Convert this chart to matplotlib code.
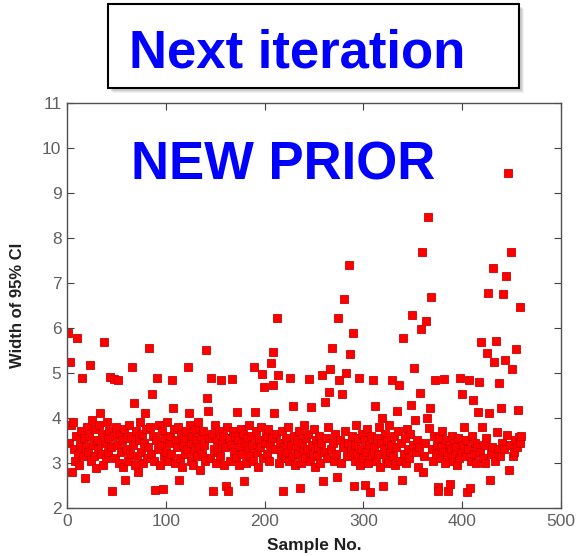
import numpy as np
import matplotlib
matplotlib.use('Agg')
import matplotlib.pyplot as plt
from matplotlib.patches import Rectangle

plt.rcParams['font.family'] = ['Liberation Sans', 'DejaVu Sans']

# width of the 95% CI per sample (20 samples per row)
ci_width = [
    5.88, 3.44, 5.24, 3.85, 2.80, 3.90, 3.30, 3.05, 3.60, 5.77, 3.20, 2.95, 3.40, 3.70, 4.88, 3.15, 3.55, 2.67, 3.35, 3.80,
    3.25, 3.60, 5.17, 3.05, 3.95, 3.40, 3.15, 3.75, 2.89, 3.50, 3.30, 3.85, 4.10, 3.20, 3.65, 2.95, 5.68, 3.45, 3.10, 3.90,
    3.55, 3.25, 3.70, 4.90, 3.35, 2.38, 3.60, 4.87, 3.10, 3.80, 3.40, 4.84, 3.00, 3.65, 3.25, 3.50, 2.90, 3.75, 2.62, 3.30,
    3.55, 3.05, 3.85, 3.20, 3.60, 5.13, 3.40, 4.33, 2.95, 3.70, 3.15, 2.80, 3.50, 3.90, 3.25, 3.65, 3.00, 3.45, 4.10, 3.75,
    3.10, 3.35, 5.55, 3.80, 3.20, 4.53, 3.60, 3.05, 2.40, 3.50, 4.88, 3.30, 3.85, 2.95, 3.40, 3.70, 2.42, 3.15, 3.55, 3.25,
    3.90, 3.05, 3.45, 3.60, 3.20, 4.84, 4.22, 3.75, 3.00, 3.50, 3.35, 3.80, 2.62, 3.10, 3.65, 2.90, 3.40, 3.55, 3.20, 3.70,
    3.30, 5.13, 4.10, 3.85, 3.05, 3.45, 3.60, 2.95, 3.25, 3.75, 3.50, 3.15, 3.90, 3.35, 2.85, 3.60, 3.20, 3.70, 3.40, 3.05,
    5.50, 4.44, 4.15, 3.55, 3.10, 4.88, 3.65, 2.38, 3.30, 3.85, 3.00, 3.50, 3.25, 3.70, 3.15, 4.84, 3.45, 3.60, 2.95, 3.35,
    2.48, 3.80, 2.38, 3.55, 3.05, 3.40, 4.86, 3.70, 3.25, 3.60, 3.10, 4.13, 3.50, 2.95, 3.35, 3.75, 3.20, 3.65, 2.60, 3.45,
    3.00, 3.55, 3.30, 3.85, 3.15, 3.60, 3.40, 3.05, 5.12, 4.13, 3.70, 3.25, 2.90, 3.50, 3.35, 3.80, 4.97, 3.10, 4.68, 3.45,
    3.60, 3.20, 3.75, 3.05, 3.40, 5.21, 3.55, 5.46, 4.73, 4.10, 3.30, 3.65, 6.21, 4.95, 3.00, 3.45, 3.20, 3.70, 2.38, 3.35,
    3.10, 3.55, 3.25, 3.80, 3.05, 4.89, 3.40, 3.15, 4.26, 3.60, 2.95, 3.35, 3.50, 3.20, 3.70, 2.45, 3.00, 3.45, 3.25, 3.85,
    3.10, 3.55, 3.30, 3.65, 4.86, 3.05, 4.24, 3.40, 3.20, 3.75, 2.90, 3.50, 3.15, 3.35, 3.60, 3.00, 3.45, 4.95, 2.60, 3.25,
    4.35, 3.55, 3.10, 3.80, 4.58, 5.08, 3.30, 5.55, 3.45, 3.05, 3.65, 3.20, 2.69, 6.21, 4.84, 3.50, 3.00, 4.52, 3.35, 6.63,
    3.70, 5.00, 3.15, 3.45, 7.39, 5.42, 3.25, 3.60, 5.89, 2.48, 3.05, 3.40, 3.85, 3.20, 3.55, 4.88, 2.95, 3.30, 3.65, 3.10,
    3.50, 2.50, 3.25, 3.75, 3.00, 3.40, 2.36, 3.60, 3.15, 4.84, 3.35, 4.26, 3.05, 3.55, 3.20, 3.80, 2.90, 3.45, 4.00, 2.48,
    3.30, 3.65, 3.10, 3.50, 3.00, 3.85, 3.25, 3.40, 4.84, 3.15, 3.60, 2.95, 3.35, 4.15, 3.70, 4.72, 3.05, 3.45, 2.62, 5.78,
    3.20, 3.55, 3.00, 3.75, 3.30, 3.10, 3.65, 4.28, 6.28, 3.40, 5.10, 3.95, 3.25, 3.50, 2.90, 3.35, 4.55, 5.98, 7.68, 2.80,
    3.15, 3.45, 6.16, 4.00, 8.45, 3.77, 4.22, 6.68, 3.30, 3.05, 3.60, 4.84, 3.20, 3.40, 2.47, 2.38, 3.55, 3.10, 3.35, 3.70,
    3.25, 4.86, 3.00, 3.50, 3.15, 2.38, 3.40, 2.53, 3.30, 3.60, 3.05, 3.45, 3.20, 3.35, 2.95, 3.55, 3.10, 4.88, 3.25, 4.52,
    3.40, 3.80, 3.15, 3.50, 2.36, 3.30, 4.84, 2.44, 3.05, 3.60, 4.40, 3.20, 3.45, 3.00, 3.35, 4.13, 4.80, 3.25, 5.68, 3.80,
    3.10, 3.40, 3.00, 3.55, 5.43, 6.77, 4.10, 2.62, 3.20, 3.35, 7.32, 5.24, 3.05, 5.70, 3.68, 3.30, 4.77, 3.15, 4.22, 3.45,
    6.75, 3.30, 5.28, 7.14, 3.62, 9.43, 2.84, 3.40, 7.68, 5.08, 3.15, 3.24, 3.50, 5.52, 3.35, 4.17, 3.57, 3.45, 6.46, 3.60,
]
sample_no = np.arange(1, len(ci_width) + 1)

x_ticks = [0, 100, 200, 300, 400, 500]
y_ticks = list(range(2, 12))

W, H = 577, 556
fig = plt.figure(figsize=(W / 100, H / 100), dpi=100)
fig.patch.set_facecolor('white')

# axes box in pixel terms: x 67..561, y 102.5..508 from the top
ax = fig.add_axes([67 / W, 1 - 508 / H, (561 - 67) / W, (508 - 102.5) / H])
ax.plot(sample_no, ci_width, linestyle='none', marker='s', markersize=6.2,
        markerfacecolor='#ff0000', markeredgecolor='#d00000', markeredgewidth=0.6)

ax.set_xlim(0, 500)
ax.set_ylim(2, 11)
ax.set_xticks(x_ticks)
ax.set_yticks(y_ticks)
ax.tick_params(direction='in', top=True, right=True, length=5, width=0.8,
               color='#404040', labelsize=12.5, labelcolor='#606060', pad=4)
for sp in ax.spines.values():
    sp.set_color('#505050')
    sp.set_linewidth(1.0)

ax.set_xlabel('Sample No.', fontsize=12.5, fontweight='bold', color='#202020')
ax.set_ylabel('Width of 95% CI', fontsize=12, fontweight='bold', color='#202020')
ax.xaxis.set_label_coords(0.5, -0.075)
ax.yaxis.set_label_coords(-0.086, 0.5)

# title box with a soft shadow
bx0, bx1, by0, by1 = 108, 519, 4, 88
for off, a in [(5, 0.10), (4, 0.15), (3, 0.2)]:
    fig.add_artist(Rectangle(((bx0 + off) / W, 1 - (by1 + off) / H),
                             (bx1 - bx0) / W, (by1 - by0) / H,
                             transform=fig.transFigure, facecolor='#808080',
                             edgecolor='none', alpha=a))
fig.add_artist(Rectangle((bx0 / W, 1 - by1 / H), (bx1 - bx0) / W, (by1 - by0) / H,
                         transform=fig.transFigure, facecolor='white',
                         edgecolor='black', linewidth=1.5))

fig.text(129 / W, 1 - 67 / H, 'Next iteration', fontsize=38, fontweight='bold',
         color='#0000ff', ha='left', va='baseline')
fig.text(131 / W, 1 - 180 / H, 'NEW PRIOR', fontsize=38, fontweight='bold',
         color='#0000ff', ha='left', va='baseline')

fig.savefig('out.png', dpi=100, facecolor='white')
